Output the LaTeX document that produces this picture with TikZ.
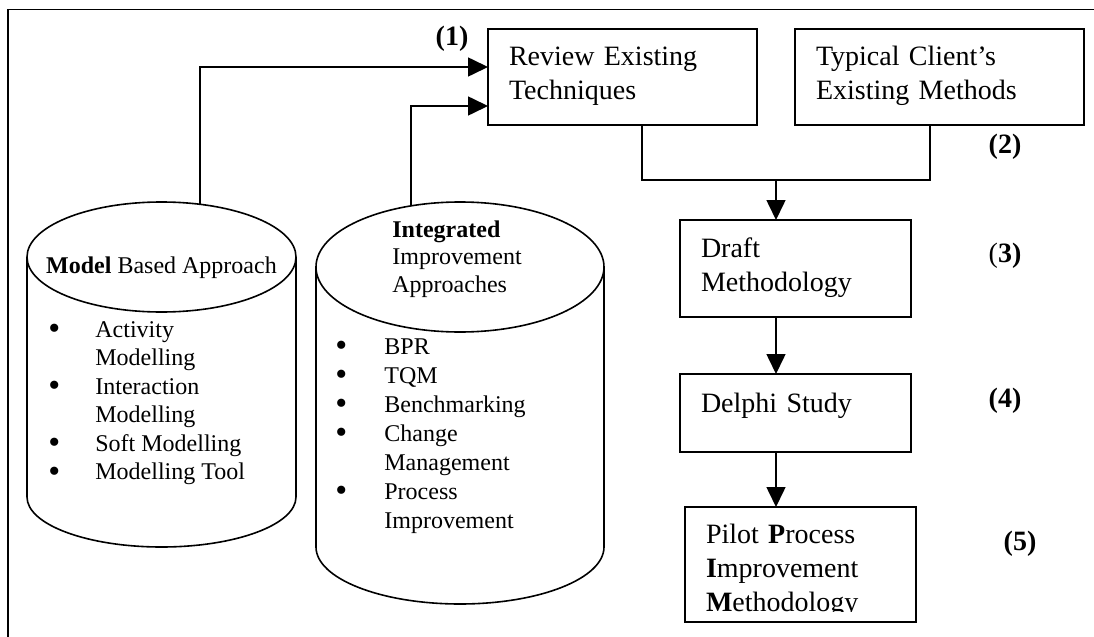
\documentclass[tikz,border=0pt]{standalone}
\usepackage{fontspec}
\setmainfont{Liberation Serif}
\usetikzlibrary{arrows.meta,positioning}

\newcommand\listdot{\smash{\raisebox{-1.3pt}{\fontsize{17}{14}\selectfont\textbullet}}}

\tikzset{
	stagebox/.style={draw, line width=0.8pt, outer sep=0pt, inner xsep=10.5pt, inner ysep=0pt, align=left, text height=9.6pt, font=\fontsize{14}{17}\selectfont},
	steplabel/.style={anchor=base, inner sep=0pt, font=\fontsize{14}{17}\selectfont\bfseries},
	flow/.style={line width=0.8pt, -{Triangle[length=10pt,width=9.5pt]}},
	link/.style={line width=0.8pt},
	drum/.style={line width=0.8pt},
	drumtext/.style={inner sep=0pt, font=\fontsize{12}{14.25}\selectfont},
}

\begin{document}
\begin{tikzpicture}[x=0.5pt,y=-0.5pt]
	\useasboundingbox (0,0) rectangle (1094,637);
	\draw[link] (8,637) -- (8,9.5) -- (1094,9.5);

	% the two cylinders
	\draw[drum] (27,257) -- (27,497) arc[start angle=180,end angle=0,x radius=134.5,y radius=50] -- (296,257);
	\draw[drum] (161.5,257) ellipse[x radius=134.5,y radius=55];
	\draw[drum] (316,267) -- (316,547) arc[start angle=180,end angle=0,x radius=144,y radius=57] -- (604,267);
	\draw[drum] (460,267) ellipse[x radius=144,y radius=65];
	\coordinate (mbatop) at (200,204);
	\coordinate (iiatop) at (411,206);

	\node[drumtext, anchor=base] (mbahead) at (161.5,273) {\textbf{Model} Based Approach};
	\node[drumtext, anchor=base west] (mbalist) at (48,337) {\begin{tabular}[t]{@{}p{23.5pt}@{}l@{}}
		\listdot & Activity\\
		 & Modelling\\
		\listdot & Interaction\\
		 & Modelling\\
		\listdot & Soft Modelling\\
		\listdot & Modelling Tool
	\end{tabular}};
	\node[drumtext, anchor=base west, font=\fontsize{12}{13.75}\selectfont] (iiahead) at (392,237) {\begin{tabular}[t]{@{}l@{}}
		\textbf{Integrated}\\
		Improvement\\
		Approaches
	\end{tabular}};
	\node[drumtext, anchor=base west, font=\fontsize{12}{14.5}\selectfont] (iialist) at (335,354) {\begin{tabular}[t]{@{}p{24.5pt}@{}l@{}}
		\listdot & BPR\\
		\listdot & TQM\\
		\listdot & Benchmarking\\
		\listdot & Change\\
		 & Management\\
		\listdot & Process\\
		 & Improvement
	\end{tabular}};

	% stages
	\node[stagebox, text width=113.5pt, minimum height=48pt, text depth=21.5pt] (review) at (622.5,77) {Review Existing\\Techniques};
	\node[stagebox, text width=123.5pt, minimum height=48pt, text depth=21.5pt] (typical) at (939.5,77) {Typical Client’s\\Existing Methods};
	\node[stagebox, text width=94.5pt, minimum height=48.5pt, text depth=21.1pt] (draft) at (795.5,268.5) {Draft\\Methodology};
	\node[stagebox, text width=94.5pt, minimum height=39pt, text depth=10.6pt] (delphi) at (795.5,413) {Delphi Study};
	\begin{scope}
		\clip (600,480) rectangle (950,611);
		\node[stagebox, text width=94.5pt, minimum height=57.5pt, text depth=31.1pt] (pilot) at (800.5,564.5) {Pilot \textbf{P}rocess\\\textbf{I}mprovement\\\textbf{M}ethodology};
	\end{scope}
	\draw[link] (pilot.south west) rectangle (pilot.north east);

	\node[steplabel] (n1) at (452,46) {(1)};
	\node[steplabel] (n2) at (1005,153) {(2)};
	\node[steplabel] (n3) at (1005,262) {{\mdseries(}3)};
	\node[steplabel] (n4) at (1005,407) {(4)};
	\node[steplabel] (n5) at (1020,550) {(5)};

	% connectors
	\coordinate (merge) at (776,180);
	\draw[flow] (mbatop) |- ([yshift=5pt]review.west);
	\draw[flow] (iiatop) |- ([yshift=-14.5pt]review.west);
	\draw[link] ([xshift=9.75pt]review.south) |- (merge) -| ([xshift=-4.75pt]typical.south);
	\draw[flow] (merge) -- (merge |- draft.north);
	\draw[flow] (draft.south -| merge) -- (delphi.north -| merge);
	\draw[flow] (delphi.south -| merge) -- (pilot.north -| merge);
\end{tikzpicture}
\end{document}
